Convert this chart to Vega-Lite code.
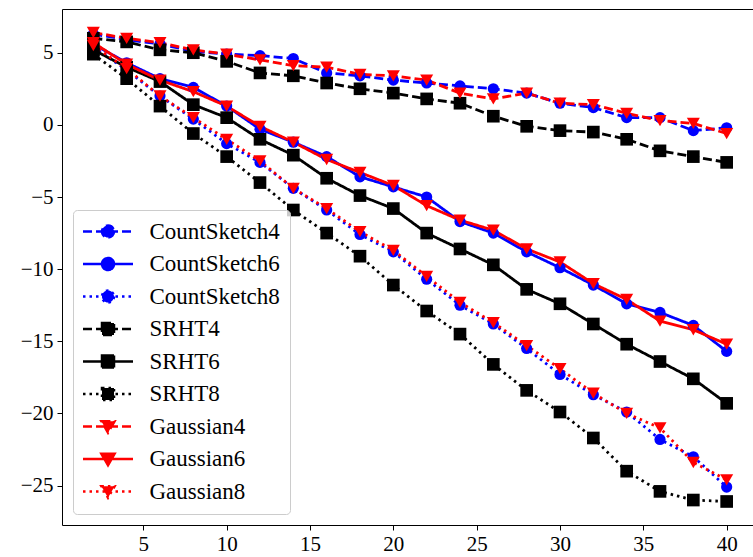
{
  "$schema": "https://vega.github.io/schema/vega-lite/v6.json",
  "width": 691,
  "height": 516,
  "autosize": "none",
  "padding": {"left": 62, "top": 9, "right": 0, "bottom": 32},
  "background": "white",
  "config": {"view": {"stroke": null}, "font": "Liberation Serif"},
  "datasets": {
    "rows": [
      {"series":"CountSketch4","x":2,"y":6.3},{"series":"CountSketch4","x":4,"y":5.9},{"series":"CountSketch4","x":6,"y":5.6},{"series":"CountSketch4","x":8,"y":5.1},{"series":"CountSketch4","x":10,"y":4.9},{"series":"CountSketch4","x":12,"y":4.8},{"series":"CountSketch4","x":14,"y":4.6},{"series":"CountSketch4","x":16,"y":3.6},{"series":"CountSketch4","x":18,"y":3.4},{"series":"CountSketch4","x":20,"y":3.1},{"series":"CountSketch4","x":22,"y":2.9},{"series":"CountSketch4","x":24,"y":2.7},{"series":"CountSketch4","x":26,"y":2.5},{"series":"CountSketch4","x":28,"y":2.2},{"series":"CountSketch4","x":30,"y":1.5},{"series":"CountSketch4","x":32,"y":1.2},{"series":"CountSketch4","x":34,"y":0.5},{"series":"CountSketch4","x":36,"y":0.5},{"series":"CountSketch4","x":38,"y":-0.4},{"series":"CountSketch4","x":40,"y":-0.2},
      {"series":"CountSketch6","x":2,"y":5.6},{"series":"CountSketch6","x":4,"y":4.3},{"series":"CountSketch6","x":6,"y":3.2},{"series":"CountSketch6","x":8,"y":2.6},{"series":"CountSketch6","x":10,"y":1.3},{"series":"CountSketch6","x":12,"y":-0.3},{"series":"CountSketch6","x":14,"y":-1.2},{"series":"CountSketch6","x":16,"y":-2.2},{"series":"CountSketch6","x":18,"y":-3.6},{"series":"CountSketch6","x":20,"y":-4.3},{"series":"CountSketch6","x":22,"y":-5.0},{"series":"CountSketch6","x":24,"y":-6.7},{"series":"CountSketch6","x":26,"y":-7.5},{"series":"CountSketch6","x":28,"y":-8.8},{"series":"CountSketch6","x":30,"y":-9.9},{"series":"CountSketch6","x":32,"y":-11.1},{"series":"CountSketch6","x":34,"y":-12.4},{"series":"CountSketch6","x":36,"y":-13.0},{"series":"CountSketch6","x":38,"y":-13.9},{"series":"CountSketch6","x":40,"y":-15.7},
      {"series":"CountSketch8","x":2,"y":5.4},{"series":"CountSketch8","x":4,"y":3.8},{"series":"CountSketch8","x":6,"y":2.0},{"series":"CountSketch8","x":8,"y":0.4},{"series":"CountSketch8","x":10,"y":-1.3},{"series":"CountSketch8","x":12,"y":-2.6},{"series":"CountSketch8","x":14,"y":-4.4},{"series":"CountSketch8","x":16,"y":-5.9},{"series":"CountSketch8","x":18,"y":-7.6},{"series":"CountSketch8","x":20,"y":-8.8},{"series":"CountSketch8","x":22,"y":-10.7},{"series":"CountSketch8","x":24,"y":-12.5},{"series":"CountSketch8","x":26,"y":-13.8},{"series":"CountSketch8","x":28,"y":-15.5},{"series":"CountSketch8","x":30,"y":-17.3},{"series":"CountSketch8","x":32,"y":-18.7},{"series":"CountSketch8","x":34,"y":-19.9},{"series":"CountSketch8","x":36,"y":-21.8},{"series":"CountSketch8","x":38,"y":-23.0},{"series":"CountSketch8","x":40,"y":-25.1},
      {"series":"SRHT4","x":2,"y":6.0},{"series":"SRHT4","x":4,"y":5.75},{"series":"SRHT4","x":6,"y":5.2},{"series":"SRHT4","x":8,"y":5.0},{"series":"SRHT4","x":10,"y":4.4},{"series":"SRHT4","x":12,"y":3.6},{"series":"SRHT4","x":14,"y":3.4},{"series":"SRHT4","x":16,"y":2.9},{"series":"SRHT4","x":18,"y":2.5},{"series":"SRHT4","x":20,"y":2.2},{"series":"SRHT4","x":22,"y":1.8},{"series":"SRHT4","x":24,"y":1.5},{"series":"SRHT4","x":26,"y":0.6},{"series":"SRHT4","x":28,"y":-0.1},{"series":"SRHT4","x":30,"y":-0.4},{"series":"SRHT4","x":32,"y":-0.5},{"series":"SRHT4","x":34,"y":-1.0},{"series":"SRHT4","x":36,"y":-1.8},{"series":"SRHT4","x":38,"y":-2.2},{"series":"SRHT4","x":40,"y":-2.6},
      {"series":"SRHT6","x":2,"y":5.2},{"series":"SRHT6","x":4,"y":4.0},{"series":"SRHT6","x":6,"y":3.0},{"series":"SRHT6","x":8,"y":1.4},{"series":"SRHT6","x":10,"y":0.5},{"series":"SRHT6","x":12,"y":-1.0},{"series":"SRHT6","x":14,"y":-2.1},{"series":"SRHT6","x":16,"y":-3.7},{"series":"SRHT6","x":18,"y":-4.9},{"series":"SRHT6","x":20,"y":-5.8},{"series":"SRHT6","x":22,"y":-7.5},{"series":"SRHT6","x":24,"y":-8.6},{"series":"SRHT6","x":26,"y":-9.7},{"series":"SRHT6","x":28,"y":-11.4},{"series":"SRHT6","x":30,"y":-12.4},{"series":"SRHT6","x":32,"y":-13.8},{"series":"SRHT6","x":34,"y":-15.2},{"series":"SRHT6","x":36,"y":-16.4},{"series":"SRHT6","x":38,"y":-17.6},{"series":"SRHT6","x":40,"y":-19.3},
      {"series":"SRHT8","x":2,"y":4.9},{"series":"SRHT8","x":4,"y":3.2},{"series":"SRHT8","x":6,"y":1.3},{"series":"SRHT8","x":8,"y":-0.6},{"series":"SRHT8","x":10,"y":-2.2},{"series":"SRHT8","x":12,"y":-4.0},{"series":"SRHT8","x":14,"y":-5.9},{"series":"SRHT8","x":16,"y":-7.5},{"series":"SRHT8","x":18,"y":-9.1},{"series":"SRHT8","x":20,"y":-11.1},{"series":"SRHT8","x":22,"y":-12.9},{"series":"SRHT8","x":24,"y":-14.5},{"series":"SRHT8","x":26,"y":-16.6},{"series":"SRHT8","x":28,"y":-18.4},{"series":"SRHT8","x":30,"y":-19.9},{"series":"SRHT8","x":32,"y":-21.7},{"series":"SRHT8","x":34,"y":-24.0},{"series":"SRHT8","x":36,"y":-25.4},{"series":"SRHT8","x":38,"y":-26.0},{"series":"SRHT8","x":40,"y":-26.1},
      {"series":"Gaussian4","x":2,"y":6.4},{"series":"Gaussian4","x":4,"y":6.0},{"series":"Gaussian4","x":6,"y":5.7},{"series":"Gaussian4","x":8,"y":5.2},{"series":"Gaussian4","x":10,"y":4.9},{"series":"Gaussian4","x":12,"y":4.5},{"series":"Gaussian4","x":14,"y":4.1},{"series":"Gaussian4","x":16,"y":4.0},{"series":"Gaussian4","x":18,"y":3.5},{"series":"Gaussian4","x":20,"y":3.4},{"series":"Gaussian4","x":22,"y":3.1},{"series":"Gaussian4","x":24,"y":2.2},{"series":"Gaussian4","x":26,"y":1.8},{"series":"Gaussian4","x":28,"y":2.2},{"series":"Gaussian4","x":30,"y":1.5},{"series":"Gaussian4","x":32,"y":1.4},{"series":"Gaussian4","x":34,"y":0.8},{"series":"Gaussian4","x":36,"y":0.3},{"series":"Gaussian4","x":38,"y":0.1},{"series":"Gaussian4","x":40,"y":-0.6},
      {"series":"Gaussian6","x":2,"y":5.7},{"series":"Gaussian6","x":4,"y":4.2},{"series":"Gaussian6","x":6,"y":3.1},{"series":"Gaussian6","x":8,"y":2.3},{"series":"Gaussian6","x":10,"y":1.3},{"series":"Gaussian6","x":12,"y":-0.1},{"series":"Gaussian6","x":14,"y":-1.2},{"series":"Gaussian6","x":16,"y":-2.4},{"series":"Gaussian6","x":18,"y":-3.3},{"series":"Gaussian6","x":20,"y":-4.2},{"series":"Gaussian6","x":22,"y":-5.6},{"series":"Gaussian6","x":24,"y":-6.6},{"series":"Gaussian6","x":26,"y":-7.3},{"series":"Gaussian6","x":28,"y":-8.6},{"series":"Gaussian6","x":30,"y":-9.5},{"series":"Gaussian6","x":32,"y":-11.0},{"series":"Gaussian6","x":34,"y":-12.1},{"series":"Gaussian6","x":36,"y":-13.6},{"series":"Gaussian6","x":38,"y":-14.2},{"series":"Gaussian6","x":40,"y":-15.2},
      {"series":"Gaussian8","x":2,"y":5.5},{"series":"Gaussian8","x":4,"y":3.9},{"series":"Gaussian8","x":6,"y":2.0},{"series":"Gaussian8","x":8,"y":0.5},{"series":"Gaussian8","x":10,"y":-1.0},{"series":"Gaussian8","x":12,"y":-2.5},{"series":"Gaussian8","x":14,"y":-4.4},{"series":"Gaussian8","x":16,"y":-5.8},{"series":"Gaussian8","x":18,"y":-7.4},{"series":"Gaussian8","x":20,"y":-8.7},{"series":"Gaussian8","x":22,"y":-10.5},{"series":"Gaussian8","x":24,"y":-12.3},{"series":"Gaussian8","x":26,"y":-13.7},{"series":"Gaussian8","x":28,"y":-15.3},{"series":"Gaussian8","x":30,"y":-16.9},{"series":"Gaussian8","x":32,"y":-18.6},{"series":"Gaussian8","x":34,"y":-20.0},{"series":"Gaussian8","x":36,"y":-21.0},{"series":"Gaussian8","x":38,"y":-23.4},{"series":"Gaussian8","x":40,"y":-24.6}
    ]
  },
  "data": {"name": "rows"},
  "encoding": {
    "y": {
      "field": "y", "type": "quantitative",
      "scale": {"domain": [-27.73, 8.03], "nice": false, "zero": false},
      "axis": {"title": null, "grid": false, "values": [-25, -20, -15, -10, -5, 0, 5], "tickSize": 5, "tickColor": "black", "domainColor": "black", "labelFont": "Liberation Serif", "labelFontSize": 21, "labelColor": "black", "labelPadding": 4}
    },
    "color": {
      "field": "series", "type": "nominal",
      "scale": {
        "domain": ["CountSketch4","CountSketch6","CountSketch8","SRHT4","SRHT6","SRHT8","Gaussian4","Gaussian6","Gaussian8"],
        "range": ["#0000ff","#0000ff","#0000ff","#000000","#000000","#000000","#ff0000","#ff0000","#ff0000"]
      },
      "legend": {
        "title": null,
        "orient": "bottom-left",
        "offset": 11,
        "padding": 10,
        "rowPadding": 8.5,
        "symbolSize": 400,
        "symbolStrokeWidth": 2.5,
        "symbolOffset": 13.5,
        "labelOffset": 30,
        "labelFont": "Liberation Serif",
        "labelFontSize": 23,
        "labelColor": "black",
        "labelLimit": 0,
        "fillColor": "rgba(255,255,255,0.8)",
        "strokeColor": "#cccccc",
        "cornerRadius": 4,
        "encode": {
          "symbols": {
            "update": {
              "shape": {"signal": "test(/^Count/, datum.value) ? 'M-2.5,0L2.5,0M0.6,0A0.6,0.6,0,1,1,-0.6,0A0.6,0.6,0,1,1,0.6,0Z' : test(/^SRHT/, datum.value) ? 'M-2.5,0L2.5,0M-0.6,-0.6L0.6,-0.6L0.6,0.6L-0.6,0.6Z' : 'M-2.5,0L2.5,0M-0.66,-0.52L0.66,-0.52L0,0.62Z'"},
              "strokeDash": {"signal": "test(/4$/, datum.value) ? [9,4] : test(/8$/, datum.value) ? [2.5,4] : [1,0]"},
              "fill": {"signal": "test(/^Count/, datum.value) ? '#0000ff' : test(/^SRHT/, datum.value) ? '#000000' : '#ff0000'"},
              "stroke": {"signal": "test(/^Count/, datum.value) ? '#0000ff' : test(/^SRHT/, datum.value) ? '#000000' : '#ff0000'"},
              "strokeWidth": {"value": 2.5},
              "size": {"value": 400},
              "opacity": {"value": 1},
              "fillOpacity": {"value": 1}
            }
          }
        }
      }
    }
  },
  "layer": [
    {
      "mark": {"type": "line", "strokeWidth": 2.8},
      "encoding": {
        "x": {
          "field": "x", "type": "quantitative",
          "scale": {"domain": [0.12, 41.58], "nice": false, "zero": false},
          "axis": {"title": null, "grid": false, "values": [5, 10, 15, 20, 25, 30, 35, 40], "tickSize": 5, "tickColor": "black", "domainColor": "black", "labelFont": "Liberation Serif", "labelFontSize": 21, "labelColor": "black", "labelPadding": 3, "labelFlush": false}
        },
        "strokeDash": {
          "field": "series", "type": "nominal",
          "scale": {
            "domain": ["CountSketch4","CountSketch6","CountSketch8","SRHT4","SRHT6","SRHT8","Gaussian4","Gaussian6","Gaussian8"],
            "range": [[9,4],[1,0],[2.5,4],[9,4],[1,0],[2.5,4],[9,4],[1,0],[2.5,4]]
          },
          "legend": null
        }
      }
    },
    {
      "transform": [{"filter": "test(/^Count/, datum.series)"}],
      "mark": {"type": "point", "shape": "circle", "size": 125, "filled": true, "opacity": 1},
      "encoding": {
        "x": {
          "field": "x", "type": "quantitative",
          "scale": {"domain": [0.12, 41.58], "nice": false, "zero": false},
          "axis": {"orient": "top", "title": null, "grid": false, "ticks": false, "labels": false, "domainColor": "black"}
        }
      }
    },
    {
      "transform": [{"filter": "test(/^SRHT/, datum.series)"}],
      "mark": {"type": "point", "shape": "square", "size": 160, "filled": true, "opacity": 1},
      "encoding": {
        "x": {
          "field": "x", "type": "quantitative",
          "scale": {"domain": [0.12, 41.58], "nice": false, "zero": false},
          "axis": null
        }
      }
    },
    {
      "transform": [{"filter": "test(/^Gaussian/, datum.series)"}],
      "mark": {"type": "point", "shape": "triangle-down", "size": 170, "filled": true, "opacity": 1},
      "encoding": {
        "x": {
          "field": "x", "type": "quantitative",
          "scale": {"domain": [0.12, 41.58], "nice": false, "zero": false},
          "axis": null
        }
      }
    }
  ],
  "resolve": {"axis": {"x": "independent"}}
}
